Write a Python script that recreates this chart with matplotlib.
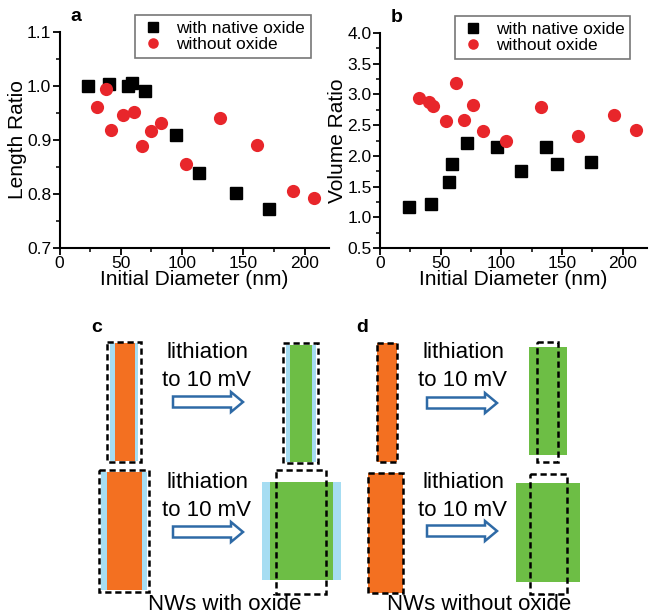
import matplotlib
matplotlib.use("Agg")
import matplotlib.pyplot as plt
from matplotlib.patches import Rectangle, FancyArrow
from matplotlib.ticker import MultipleLocator

plt.rcParams['font.family'] = ['Liberation Sans', 'DejaVu Sans']

# panel a: length ratio vs initial diameter
a_oxide_d = [23, 40, 56, 59, 70, 95, 114, 144, 171]
a_oxide_r = [1.000, 1.004, 1.000, 1.006, 0.991, 0.909, 0.839, 0.801, 0.772]
a_bare_d = [31, 38, 42, 52, 61, 67, 75, 83, 103, 131, 161, 191, 208]
a_bare_r = [0.962, 0.994, 0.918, 0.947, 0.951, 0.888, 0.917, 0.931, 0.855, 0.941, 0.891, 0.806, 0.793]

# panel b: volume ratio vs initial diameter
b_oxide_d = [24, 42, 57, 59, 72, 96, 116, 137, 146, 174]
b_oxide_r = [1.17, 1.21, 1.57, 1.86, 2.21, 2.15, 1.76, 2.15, 1.86, 1.90]
b_bare_d = [32, 40, 44, 54, 63, 69, 77, 85, 104, 133, 163, 193, 211]
b_bare_r = [2.95, 2.88, 2.81, 2.56, 3.19, 2.59, 2.82, 2.41, 2.25, 2.79, 2.33, 2.67, 2.42]

W, H = 650, 616
fig = plt.figure(figsize=(W / 100, H / 100), dpi=100)


def px_axes(x0, y_top, x1, y_bot):
    return fig.add_axes([x0 / W, 1 - y_bot / H, (x1 - x0) / W, (y_bot - y_top) / H])


def scatter_panel(ax, xs1, ys1, xs2, ys2, ylim, ymaj, ymin, ylabel, letter):
    ax.plot(xs1, ys1, 's', color='black', ms=8.5, label='with native oxide', zorder=3)
    ax.plot(xs2, ys2, 'o', color='#e8262b', ms=9.5, mec='none', label='without oxide', zorder=3)
    ax.set_xlim(0, 220)
    ax.set_ylim(*ylim)
    ax.xaxis.set_major_locator(MultipleLocator(50))
    ax.xaxis.set_minor_locator(MultipleLocator(25))
    ax.yaxis.set_major_locator(MultipleLocator(ymaj))
    ax.yaxis.set_minor_locator(MultipleLocator(ymin))
    ax.yaxis.set_major_formatter(matplotlib.ticker.FormatStrFormatter('%.1f'))
    for s in ['top', 'right']:
        ax.spines[s].set_visible(False)
    for s in ['left', 'bottom']:
        ax.spines[s].set_linewidth(1.5)
    ax.tick_params(which='major', direction='out', length=5, width=1.3, labelsize=12.5, pad=1)
    ax.tick_params(which='minor', direction='out', length=3, width=1.1)
    ax.set_xlabel('Initial Diameter (nm)', fontsize=15, labelpad=-1)
    ax.set_ylabel(ylabel, fontsize=15, labelpad=0)
    ax.patch.set_alpha(0)
    leg = ax.legend(loc='upper left', bbox_to_anchor=(0.28, 1.08), fontsize=12.5, frameon=True,
                    fancybox=False, edgecolor='#555555', borderpad=0.35, handletextpad=0.6,
                    labelspacing=0.05, borderaxespad=0, markerscale=0.8, handlelength=1.4)
    leg.get_frame().set_linewidth(1.2)
    ax.text(0.04, 1.07, letter, transform=ax.transAxes, fontsize=14, fontweight='bold',
            va='center', ha='left')


ax_a = px_axes(59.5, 32, 329, 248)
scatter_panel(ax_a, a_oxide_d, a_oxide_r, a_bare_d, a_bare_r, (0.7, 1.1), 0.1, 0.05,
              'Length Ratio', 'a')
ax_b = px_axes(380, 33, 647, 248)
scatter_panel(ax_b, b_oxide_d, b_oxide_r, b_bare_d, b_bare_r, (0.5, 4.0), 0.5, 0.25,
              'Volume Ratio', 'b')

# schematics c and d, drawn in a full-figure pixel frame
ax_s = fig.add_axes([0, 0, 1, 1], zorder=-1)
ax_s.set_xlim(0, W)
ax_s.set_ylim(H, 0)
ax_s.axis('off')

orange = '#f37021'
green = '#6dbe45'
blue = '#a6ddf2'
arrow_col = '#2e6aa6'


def rect(x0, y0, x1, y1, color):
    ax_s.add_patch(Rectangle((x0, y0), x1 - x0, y1 - y0, color=color, lw=0))


def dashed(x0, y0, x1, y1):
    ax_s.add_patch(Rectangle((x0, y0), x1 - x0, y1 - y0, fill=False, ec='black', lw=1.8,
                             ls=(0, (2.5, 1.5))))


def arrow(x0, x1, y):
    ax_s.add_patch(FancyArrow(x0, y, x1 - x0, 0, width=11, head_width=20, head_length=12,
                              length_includes_head=True, fc='white', ec=arrow_col, lw=1.8))


def label(xc, y1, y2):
    ax_s.text(xc, y1, 'lithiation', fontsize=16, ha='center', va='center')
    ax_s.text(xc, y2, 'to 10 mV', fontsize=16, ha='center', va='center')


# c: NWs with oxide
rect(110, 343, 138, 461, blue)
rect(115, 343, 135, 461, orange)
dashed(107, 342, 141, 462)
rect(286, 345, 316, 462, blue)
rect(290, 345, 312, 462, green)
dashed(283, 343, 318, 463)
rect(101, 472, 147, 590, blue)
rect(107, 472, 142, 590, orange)
dashed(99, 470, 149, 592)
rect(262, 482, 341, 580, blue)
rect(270, 482, 333, 580, green)
dashed(276, 470, 326, 594)
label(207, 353, 380)
arrow(173, 243, 402)
label(207, 483, 510)
arrow(173, 243, 532)
ax_s.text(97, 328, 'c', fontsize=14, fontweight='bold', ha='center', va='center')
ax_s.text(225, 610, 'NWs with oxide', fontsize=16, ha='center', va='baseline')

# d: NWs without oxide
rect(377, 343, 397, 462, orange)
dashed(377, 343, 397, 462)
rect(529, 347, 567, 455, green)
dashed(537, 342, 558, 462)
rect(368, 473, 403, 593, orange)
dashed(368, 473, 403, 593)
rect(516, 483, 580, 582, green)
dashed(530, 474, 567, 594)
label(463, 353, 380)
arrow(427, 497, 403)
label(463, 483, 510)
arrow(427, 497, 531)
ax_s.text(362, 327, 'd', fontsize=14, fontweight='bold', ha='center', va='center')
ax_s.text(479, 610, 'NWs without oxide', fontsize=16, ha='center', va='baseline')

fig.savefig('out.png', dpi=100)
